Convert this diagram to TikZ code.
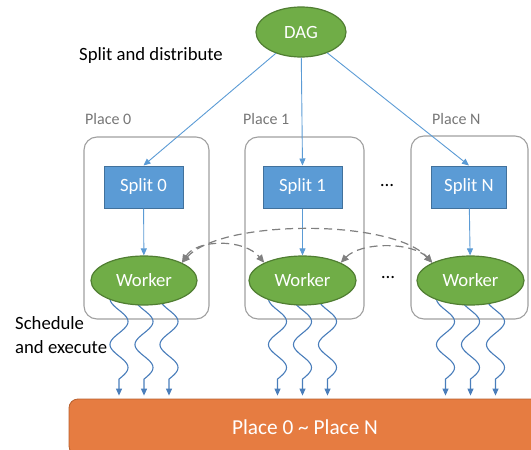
\documentclass[tikz,border=0pt]{standalone}
\usepackage{fontspec}
\setmainfont{Carlito}
\usetikzlibrary{shapes.geometric,arrows.meta,calc}
\pgfdeclarelayer{back}
\pgfsetlayers{back,main}

\definecolor{nodegreen}{HTML}{70AD47}
\definecolor{nodegreenline}{HTML}{507E32}
\definecolor{splitblue}{HTML}{5B9BD5}
\definecolor{splitline}{HTML}{41719C}
\definecolor{linkblue}{HTML}{5B9BD5}
\definecolor{wavecol}{HTML}{4A7EBB}
\definecolor{placegray}{HTML}{A0A0A0}
\definecolor{labelgray}{HTML}{767676}
\definecolor{barorange}{HTML}{E67C41}
\definecolor{barline}{HTML}{B7612F}
\definecolor{dashgray}{HTML}{808080}

\tikzset{
  txt/.style={font=\fontsize{18.7}{22}\selectfont},
  ellip/.style={ellipse, draw=nodegreenline, line width=1.2pt, fill=nodegreen,
    text=white, inner sep=0pt, txt},
  splitbox/.style={rectangle, draw=splitline, line width=1pt, fill=splitblue,
    text=white, inner sep=0pt, minimum height=42pt, txt},
  placebox/.style={rectangle, rounded corners=13pt, draw=placegray, line width=1.1pt,
    fill=white, inner sep=0pt},
  placelabel/.style={anchor=west, inner sep=0pt, text=labelgray,
    font=\fontsize{16}{19}\selectfont},
  link/.style={draw=linkblue, line width=0.9pt, -{Triangle[length=7pt,width=6pt]}},
  wave/.style={draw=wavecol, line width=1.1pt, shorten >=3pt,
    -{Triangle[length=7pt,width=6pt]}},
  dasharrow/.style={draw=dashgray, line width=1.2pt, dash pattern=on 8pt off 5pt,
    <->, >={Triangle[length=8pt,width=7pt]}},
}

% a wavy "schedule and execute" arrow from a worker down to the bar
\newcommand\wavearrow[2]{%
  \coordinate (wv) at ($(#1.south)+(#2,0)$);
  \begin{scope}[shift={(wv)}]
    \draw[wave] plot[domain=0:3.5,samples=70,smooth]
      ({-9*cos(180*\x)},{-7+23*\x}) -- (wv |- bar.north);
  \end{scope}}

\begin{document}
\begin{tikzpicture}[x=1pt,y=-1pt]
\useasboundingbox (0,0) rectangle (531,450);

% DAG and the text beside it
\node[ellip, minimum width=90pt, minimum height=50pt] (dag) at (301,32) {DAG};
\node[anchor=west, inner sep=0pt, txt] (distlbl) at (79,56) {Split and distribute};

% place containers with their labels
\begin{pgfonlayer}{back}
  \node[placebox, minimum width=125pt, minimum height=182pt] (p0) at (146.5,228) {};
  \node[placebox, minimum width=119pt, minimum height=182pt] (p1) at (304.5,228) {};
  \node[placebox, minimum width=117pt, minimum height=183pt] (pN) at (469.5,227.5) {};
\end{pgfonlayer}
\node[placelabel] (lp0) at (85,119) {Place 0};
\node[placelabel] (lp1) at (243,119) {Place 1};
\node[placelabel] (lpN) at (432,119) {Place N};

% splits
\node[splitbox, minimum width=79pt] (s0) at (143.5,187) {Split 0};
\node[splitbox, minimum width=79pt] (s1) at (302.5,187) {Split 1};
\node[splitbox, minimum width=75pt] (sN) at (469,187) {Split N};

% workers
\node[ellip, minimum width=106pt, minimum height=49pt] (w0) at (144,280.5) {Worker};
\node[ellip, minimum width=107pt, minimum height=49pt] (w1) at (302.5,280.5) {Worker};
\node[ellip, minimum width=107pt, minimum height=49pt] (wN) at (470.5,280.5) {Worker};

% ellipses between places
\node[txt, inner sep=0pt] (dots1) at (387,186) {…};
\node[txt, inner sep=0pt] (dots2) at (388,278) {…};

% execution target
\node[rectangle, rounded corners=9pt, draw=barline, line width=0.8pt, fill=barorange,
  text=white, minimum width=472pt, minimum height=56pt, inner sep=0pt,
  font=\fontsize{21.3}{25}\selectfont] (bar) at (305,427) {Place 0 \textasciitilde{} Place N};

\node[anchor=west, align=left, inner sep=0pt, txt,
  font=\fontsize{18.7}{24}\selectfont] (schedlbl) at (15,335) {Schedule\\and execute};

% distribution from the DAG to the splits
\draw[link] (dag) -- (s0.north);
\draw[link] (dag) -- (s1.north);
\draw[link] (dag) -- (sN.north);

% splits feed their workers
\draw[link] (s0) -- (w0);
\draw[link] (s1) -- (w1);
\draw[link] (sN) -- (wN);

% communication between workers
\draw[dasharrow] (w0.north east) .. controls +(15,-24) and +(-20,-24) .. (w1.north west);
\draw[dasharrow] (w0.north east) .. controls +(40,-44) and +(-40,-44) .. (wN.north west);
\draw[dasharrow] (w1.north east) .. controls +(20,-21) and +(-20,-21) .. (wN.north west);

% scheduling and execution
\begin{pgfonlayer}{back}
  \foreach \w in {w0,w1,wN}{
    \wavearrow{\w}{-25}
    \wavearrow{\w}{0}
    \wavearrow{\w}{25}
  }
\end{pgfonlayer}
\end{tikzpicture}
\end{document}
